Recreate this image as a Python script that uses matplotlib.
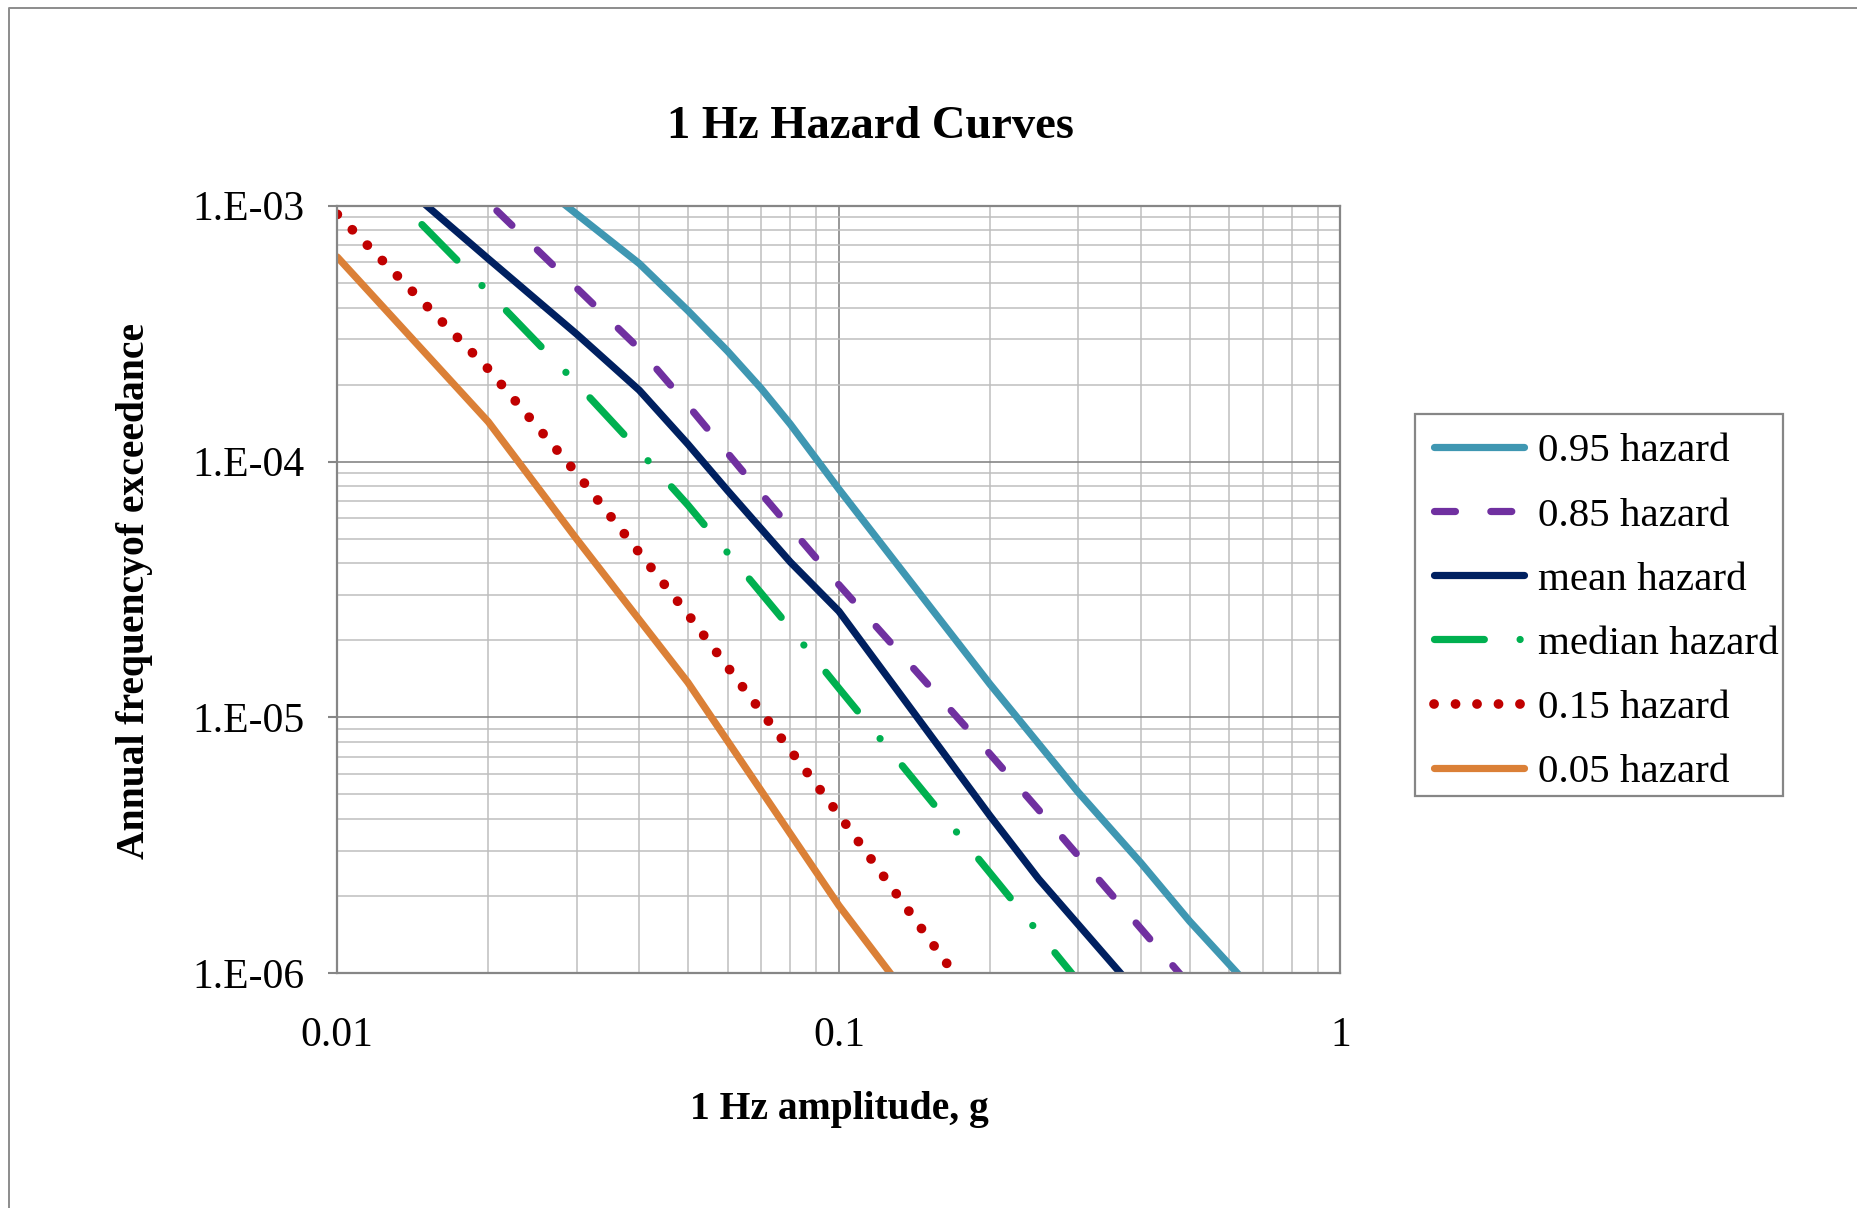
import matplotlib
matplotlib.use("Agg")
import matplotlib.pyplot as plt
from matplotlib.lines import Line2D
from matplotlib.patches import Rectangle
from matplotlib.ticker import FixedLocator, FixedFormatter, LogLocator, NullFormatter

plt.rcParams['font.family'] = ['Liberation Serif', 'DejaVu Serif']

# Hazard curves: amplitude (g) vs annual frequency of exceedance
amp_p95 = [0.01, 0.02, 0.04, 0.05, 0.06, 0.07, 0.08, 0.1, 0.2, 0.3, 0.4, 0.5, 0.7]
afe_p95 = [4.9e-3, 1.74e-3, 5.94e-4, 3.89e-4, 2.70e-4, 1.93e-4, 1.40e-4, 7.8e-5,
           1.35e-5, 5.1e-6, 2.7e-6, 1.6e-6, 7.8e-7]

amp_p85 = [0.01, 0.02, 0.04, 0.05, 0.07, 0.1, 0.2, 0.25, 0.5, 0.7]
afe_p85 = [4.0e-3, 1.03e-3, 2.76e-4, 1.66e-4, 7.5e-5, 3.3e-5, 7.2e-6, 4.36e-6, 9.0e-7, 4.2e-7]

amp_mean = [0.01, 0.02, 0.03, 0.04, 0.05, 0.06, 0.08, 0.1, 0.2, 0.25, 0.5]
afe_mean = [2.0e-3, 6.2e-4, 3.15e-4, 1.9e-4, 1.17e-4, 7.7e-5, 4.05e-5, 2.6e-5,
            4.13e-6, 2.34e-6, 4.9e-7]

amp_median = [0.01, 0.02, 0.03, 0.04, 0.05, 0.06, 0.08, 0.1, 0.2, 0.3]
afe_median = [1.83e-3, 4.6e-4, 2.02e-4, 1.10e-4, 6.76e-5, 4.4e-5, 2.23e-5, 1.30e-5,
              2.47e-6, 9.3e-7]

amp_p15 = [0.01, 0.02, 0.03, 0.05, 0.1, 0.2]
afe_p15 = [9.25e-4, 2.30e-4, 9.0e-5, 2.53e-5, 4.17e-6, 6.4e-7]

amp_p05 = [0.01, 0.02, 0.03, 0.05, 0.1, 0.2]
afe_p05 = [6.3e-4, 1.43e-4, 4.98e-5, 1.37e-5, 1.84e-6, 3.07e-7]

series_labels = ['0.95 hazard', '0.85 hazard', 'mean hazard', 'median hazard',
                 '0.15 hazard', '0.05 hazard']

y_ticks = [1e-6, 1e-5, 1e-4, 1e-3]
y_tick_labels = ['1.E-06', '1.E-05', '1.E-04', '1.E-03']
x_ticks = [0.01, 0.1, 1]
x_tick_labels = ['0.01', '0.1', '1']

W, H = 1858, 1208
fig = plt.figure(figsize=(W / 100, H / 100), dpi=100)
fig.patch.set_facecolor('white')

# outer chart frame (top and left edges)
frame_col = '#8C8C8C'
fig.add_artist(Line2D([9.5 / W, 9.5 / W, 1.0], [0.0, 1 - 7.5 / H, 1 - 7.5 / H],
                      transform=fig.transFigure, color=frame_col, lw=1.4))

left, right = 337.3 / W, 1340.5 / W
bottom, top = 1 - 973.3 / H, 1 - 205.7 / H
ax = fig.add_axes([left, bottom, right - left, top - bottom])
ax.set_xscale('log')
ax.set_yscale('log')
ax.set_xlim(0.01, 1)
ax.set_ylim(1e-6, 1e-3)

ax.xaxis.set_major_locator(FixedLocator(x_ticks))
ax.xaxis.set_major_formatter(FixedFormatter(x_tick_labels))
ax.yaxis.set_major_locator(FixedLocator(y_ticks))
ax.yaxis.set_major_formatter(FixedFormatter(y_tick_labels))
ax.xaxis.set_minor_locator(LogLocator(base=10, subs=range(2, 10)))
ax.yaxis.set_minor_locator(LogLocator(base=10, subs=range(2, 10)))
ax.xaxis.set_minor_formatter(NullFormatter())
ax.yaxis.set_minor_formatter(NullFormatter())

ax.set_axisbelow(True)
ax.grid(which='minor', color='#BEBEBE', lw=1.1)
ax.grid(which='major', color='#868686', lw=1.2)

for sp in ax.spines.values():
    sp.set_color('#868686')
    sp.set_linewidth(1.6)

ax.tick_params(axis='y', which='major', length=6.5, width=1.5, color='#868686',
               pad=17, labelsize=30)
ax.tick_params(axis='x', which='major', length=0, pad=31, labelsize=30)
ax.tick_params(which='minor', length=0)

lw = 5.2
ax.plot(amp_p95, afe_p95, color='#3F97B2', lw=lw, solid_capstyle='round',
        label=series_labels[0])
ax.plot(amp_p85, afe_p85, color='#7030A0', lw=lw, linestyle=(0, (2.9, 4.9)),
        dash_capstyle='round', label=series_labels[1])
ax.plot(amp_mean, afe_mean, color='#002060', lw=lw, solid_capstyle='round',
        label=series_labels[2])
ax.plot(amp_median, afe_median, color='#00B050', lw=lw,
        linestyle=(0, (6.9, 4.95, 0.01, 4.85)), dash_capstyle='round',
        label=series_labels[3])
ax.plot(amp_p15, afe_p15, color='#C00000', lw=7.0, linestyle=(0, (0.01, 2.2)),
        dash_capstyle='round', label=series_labels[4])
ax.plot(amp_p05, afe_p05, color='#DB8037', lw=lw, solid_capstyle='round',
        label=series_labels[5])

# legend box drawn as its own frame behind the axes, entries placed inside it
box_l, box_t, box_r, box_b = 1415, 413.5, 1783, 796
fig.add_artist(Rectangle((box_l / W, 1 - box_b / H), (box_r - box_l) / W,
                         (box_b - box_t) / H, transform=fig.transFigure,
                         facecolor='white', edgecolor='#868686', lw=1.6, zorder=-1))
leg = ax.legend(loc='upper left', bbox_to_anchor=(box_l / W, 1 - box_t / H),
                bbox_transform=fig.transFigure, fontsize=29.5, frameon=False,
                handlelength=2.2, handletextpad=0.33, labelspacing=0.645,
                borderpad=0.47, borderaxespad=0)

fig.text(870 / W, 1 - 127 / H, '1 Hz Hazard Curves', ha='center', va='center',
         fontsize=33.5, fontweight='bold')
fig.text(839 / W, 1 - 1109 / H, '1 Hz amplitude, g', ha='center', va='center',
         fontsize=28.5, fontweight='bold')
fig.text(135 / W, 1 - 591 / H, 'Annual frequencyof exceedance', ha='center',
         va='center', rotation=90, fontsize=28.5, fontweight='bold')

fig.savefig('out.png', dpi=100, facecolor='white')
